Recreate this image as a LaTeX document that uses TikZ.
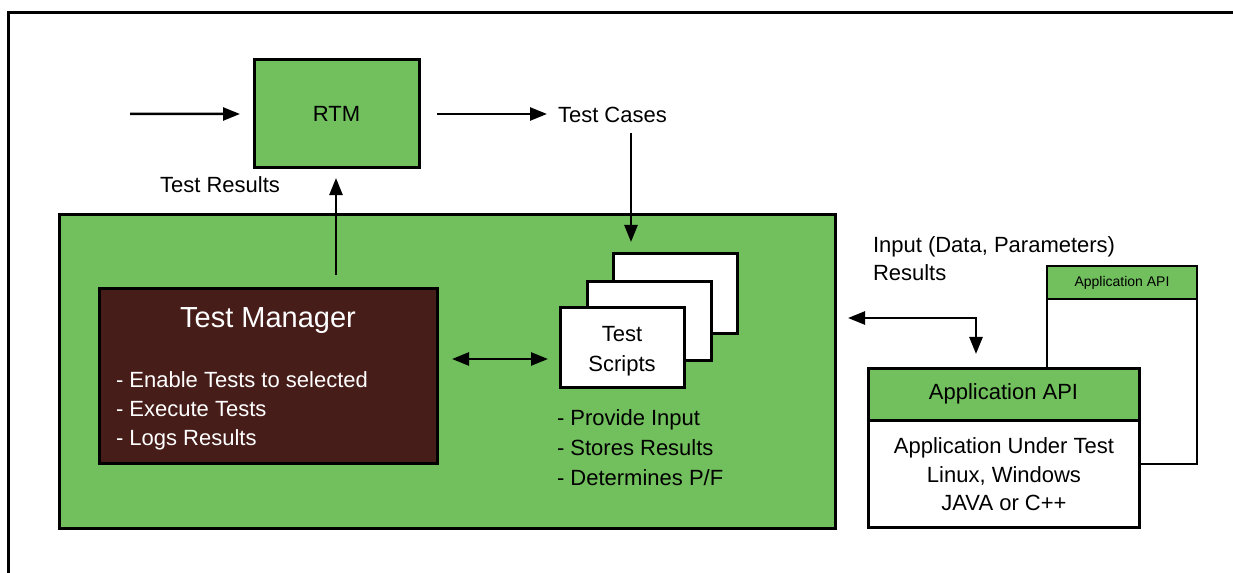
\documentclass[tikz,border=0pt]{standalone}
\usepackage{fontspec}
\setmainfont{Liberation Sans}
\usetikzlibrary{arrows.meta,calc}
\definecolor{boxgreen}{RGB}{113,191,93}
\definecolor{tmbrown}{RGB}{70,29,25}
\begin{document}
\begin{tikzpicture}[x=1bp,y=-1bp,
  box/.style={draw=black, line width=3bp, inner sep=0pt, outer sep=0pt, anchor=north west},
  thinbox/.style={draw=black, line width=1.8bp, inner sep=0pt, outer sep=0pt, anchor=north west},
  txt/.style={inner sep=0pt, outer sep=0pt, font=\fontsize{22bp}{26bp}\selectfont},
  small/.style={inner sep=0pt, outer sep=0pt, font=\fontsize{14bp}{16bp}\selectfont},
  arr/.style={line width=2.5bp, -{Triangle[length=17bp,width=13bp]}},
  dbl/.style={line width=2.5bp, {Triangle[length=17bp,width=13bp]}-{Triangle[length=17bp,width=13bp]}},
  frame/.style={line width=3bp}
]
\useasboundingbox (0,0) rectangle (1233,573);

% outer frame
\draw[frame] (8.5,580) -- (8.5,12.5) -- (1240,12.5);

% RTM
\node[box, fill=boxgreen, minimum width=165bp, minimum height=108bp, font=\fontsize{22bp}{26bp}\selectfont] (rtm) at (254,60) {RTM};
\node[txt, anchor=base west] (tc) at (558,123) {Test Cases};
\node[txt, anchor=base] (tr) at (220,193) {Test Results};

% big green box
\node[box, fill=boxgreen, minimum width=776bp, minimum height=313bp] (big) at (59,215) {};

% Test Manager
\node[box, fill=tmbrown, minimum width=338bp, minimum height=174bp] (tm) at (99,289) {};
\node[txt, text=white, font=\fontsize{29bp}{34bp}\selectfont, anchor=base] (tmt) at (268,328) {Test Manager};
\node[txt, text=white, anchor=base west] (tm1) at (116,387) {- Enable Tests to selected};
\node[txt, text=white, anchor=base west] (tm2) at (116,416) {- Execute Tests};
\node[txt, text=white, anchor=base west] (tm3) at (116,445) {- Logs Results};

% Test scripts stack
\node[box, fill=white, minimum width=124bp, minimum height=79bp] (sback) at (613,254) {};
\node[box, fill=white, minimum width=124bp, minimum height=78bp] (smid) at (587,282) {};
\node[box, fill=white, minimum width=124bp, minimum height=79bp] (sfront) at (560,308) {};
\node[txt, anchor=base] (st1) at (622,342) {Test};
\node[txt, anchor=base] (st2) at (622,371) {Scripts};
\node[txt, anchor=base west] (sb1) at (557,425) {- Provide Input};
\node[txt, anchor=base west] (sb2) at (557,455) {- Stores Results};
\node[txt, anchor=base west] (sb3) at (557,485) {- Determines P/F};

% right side labels
\node[txt, anchor=base west] (in1) at (873,253) {Input (Data, Parameters)};
\node[txt, anchor=base west] (in2) at (873,281) {Results};

% Application API back box
\node[thinbox, fill=white, minimum width=150bp, minimum height=198bp] (appb) at (1047,266) {};
\node[thinbox, fill=boxgreen, minimum width=150bp, minimum height=33bp, small] (appbh) at (1047,266) {Application API};

% Application front box
\node[box, fill=white, minimum width=271bp, minimum height=159bp] (appf) at (868,368) {};
\node[box, fill=boxgreen, minimum width=271bp, minimum height=52bp, font=\fontsize{22bp}{26bp}\selectfont] (appfh) at (868,368) {Application API};
\node[txt, anchor=base] (au1) at (1004,453) {Application Under Test};
\node[txt, anchor=base] (au2) at (1004,482) {Linux, Windows};
\node[txt, anchor=base] (au3) at (1004,510) {JAVA or C++};

% connectors
\coordinate (src) at (130,114);
\draw[arr, shorten >=14bp] (src) -- (rtm.west);
\draw[arr, shorten <=18bp, shorten >=11bp] (rtm.east) -- (rtm.east -| tc.west);
\draw[arr] ($(tc.south west)+(73,10)$) -- ($(sback.north west)+(18,-12)$);
\draw[arr] ($(big.north west)+(277,60)$) -- ($(rtm.south west)+(82,10)$);
\draw[dbl] ($(tm.north east)+(15,70)$) -- ($(sfront.north west)+(-12,51)$);
\draw[dbl] ($(big.north east)+(13,103)$) -| ($(appf.north west)+(108,-14)$);
\end{tikzpicture}
\end{document}
